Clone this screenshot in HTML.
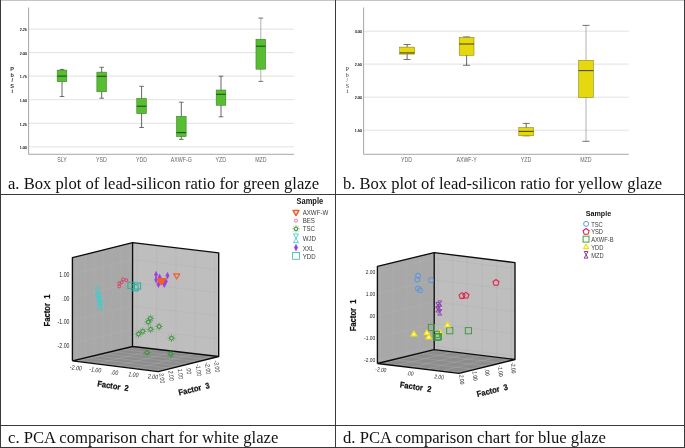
<!DOCTYPE html>
<html lang="en">
<head>
<meta charset="utf-8">
<title>Glaze analysis charts</title>
<style>
html,body{margin:0;padding:0;background:#fff;}
#fig{position:relative;width:685px;height:448px;overflow:hidden;background:#fff;font-family:"Liberation Serif","Times New Roman",serif;}
#fig svg{position:absolute;left:0;top:0;}
#fig svg text{font-family:"Liberation Sans",Arial,sans-serif;}
.ln{position:absolute;background:#3a3a3a;}
.cap{position:absolute;font-size:16.65px;line-height:20px;color:#111;white-space:nowrap;margin:0;}
</style>
</head>
<body>
<div id="fig">
<svg width="685" height="448" viewBox="0 0 685 448">
<g>
<line x1="28.6" y1="29.1" x2="294.1" y2="29.1" stroke="#dadada" stroke-width="0.8"/>
<text transform="translate(26.9 31.3) scale(0.86 1)" font-size="4.3" fill="#222" text-anchor="end" stroke="#222" stroke-width="0.18">2.25</text>
<line x1="28.6" y1="52.6" x2="294.1" y2="52.6" stroke="#dadada" stroke-width="0.8"/>
<text transform="translate(26.9 54.8) scale(0.86 1)" font-size="4.3" fill="#222" text-anchor="end" stroke="#222" stroke-width="0.18">2.00</text>
<line x1="28.6" y1="76.1" x2="294.1" y2="76.1" stroke="#dadada" stroke-width="0.8"/>
<text transform="translate(26.9 78.3) scale(0.86 1)" font-size="4.3" fill="#222" text-anchor="end" stroke="#222" stroke-width="0.18">1.75</text>
<line x1="28.6" y1="99.7" x2="294.1" y2="99.7" stroke="#dadada" stroke-width="0.8"/>
<text transform="translate(26.9 101.9) scale(0.86 1)" font-size="4.3" fill="#222" text-anchor="end" stroke="#222" stroke-width="0.18">1.50</text>
<line x1="28.6" y1="123.3" x2="294.1" y2="123.3" stroke="#dadada" stroke-width="0.8"/>
<text transform="translate(26.9 125.5) scale(0.86 1)" font-size="4.3" fill="#222" text-anchor="end" stroke="#222" stroke-width="0.18">1.25</text>
<line x1="28.6" y1="146.8" x2="294.1" y2="146.8" stroke="#dadada" stroke-width="0.8"/>
<text transform="translate(26.9 149.0) scale(0.86 1)" font-size="4.3" fill="#222" text-anchor="end" stroke="#222" stroke-width="0.18">1.00</text>
<path d="M28.6 7.5V154.3H294.1" fill="none" stroke="#9c9c9c" stroke-width="0.9"/>
<path d="M62 69.4V96.5" stroke="#333" stroke-width="0.75" fill="none"/>
<path d="M59.672 69.4H64.328M59.672 96.5H64.328" stroke="#3a3a3a" stroke-width="0.7" fill="none"/>
<rect x="57.15" y="70.1" width="9.7" height="11.600000000000009" fill="#58bd32" stroke="#2f7a1c" stroke-width="0.5"/>
<line x1="57.15" y1="76.1" x2="66.85" y2="76.1" stroke="#1c5410" stroke-width="1.1"/>
<path d="M101.7 67.3V98.2" stroke="#333" stroke-width="0.75" fill="none"/>
<path d="M99.372 67.3H104.028M99.372 98.2H104.028" stroke="#3a3a3a" stroke-width="0.7" fill="none"/>
<rect x="96.85000000000001" y="72.1" width="9.7" height="19.700000000000003" fill="#58bd32" stroke="#2f7a1c" stroke-width="0.5"/>
<line x1="96.85000000000001" y1="76.3" x2="106.55000000000001" y2="76.3" stroke="#1c5410" stroke-width="1.1"/>
<path d="M141.6 86.3V127.5" stroke="#333" stroke-width="0.75" fill="none"/>
<path d="M139.272 86.3H143.928M139.272 127.5H143.928" stroke="#3a3a3a" stroke-width="0.7" fill="none"/>
<rect x="136.75" y="98.4" width="9.7" height="15.299999999999997" fill="#58bd32" stroke="#2f7a1c" stroke-width="0.5"/>
<line x1="136.75" y1="106.2" x2="146.45" y2="106.2" stroke="#1c5410" stroke-width="1.1"/>
<path d="M181.3 102.2V139.4" stroke="#333" stroke-width="0.75" fill="none"/>
<path d="M178.972 102.2H183.62800000000001M178.972 139.4H183.62800000000001" stroke="#3a3a3a" stroke-width="0.7" fill="none"/>
<rect x="176.45000000000002" y="116.3" width="9.7" height="20.299999999999997" fill="#58bd32" stroke="#2f7a1c" stroke-width="0.5"/>
<line x1="176.45000000000002" y1="132.6" x2="186.15" y2="132.6" stroke="#1c5410" stroke-width="1.1"/>
<path d="M221 76.2V116.8" stroke="#333" stroke-width="0.75" fill="none"/>
<path d="M218.672 76.2H223.328M218.672 116.8H223.328" stroke="#3a3a3a" stroke-width="0.7" fill="none"/>
<rect x="216.15" y="90" width="9.7" height="15.299999999999997" fill="#58bd32" stroke="#2f7a1c" stroke-width="0.5"/>
<line x1="216.15" y1="94.3" x2="225.85" y2="94.3" stroke="#1c5410" stroke-width="1.1"/>
<path d="M260.8 18.1V81.4" stroke="#999" stroke-width="0.75" fill="none"/>
<path d="M258.47200000000004 18.1H263.128M258.47200000000004 81.4H263.128" stroke="#3a3a3a" stroke-width="0.7" fill="none"/>
<rect x="255.95000000000002" y="39.2" width="9.7" height="30.0" fill="#58bd32" stroke="#2f7a1c" stroke-width="0.5"/>
<line x1="255.95000000000002" y1="46.2" x2="265.65000000000003" y2="46.2" stroke="#1c5410" stroke-width="1.1"/>
<text transform="translate(62.0 162.0) scale(0.82 1)" font-size="6.4" fill="#666" text-anchor="middle">SLY</text>
<text transform="translate(101.5 162.0) scale(0.82 1)" font-size="6.4" fill="#666" text-anchor="middle">YSD</text>
<text transform="translate(141.5 162.0) scale(0.82 1)" font-size="6.4" fill="#666" text-anchor="middle">YDD</text>
<text transform="translate(181.3 162.0) scale(0.82 1)" font-size="6.4" fill="#666" text-anchor="middle">AXWF-G</text>
<text transform="translate(220.8 162.0) scale(0.82 1)" font-size="6.4" fill="#666" text-anchor="middle">YZD</text>
<text transform="translate(260.8 162.0) scale(0.82 1)" font-size="6.4" fill="#666" text-anchor="middle">MZD</text>
<text x="12.2" y="71.0" font-size="5.6" font-weight="bold" fill="#333" text-anchor="middle">P</text>
<text x="12.2" y="76.5" font-size="5.6" font-weight="bold" fill="#333" text-anchor="middle">b</text>
<text x="12.2" y="82.0" font-size="5.6" font-weight="bold" fill="#333" text-anchor="middle">/</text>
<text x="12.2" y="87.5" font-size="5.6" font-weight="bold" fill="#333" text-anchor="middle">S</text>
<text x="12.2" y="93.0" font-size="5.6" font-weight="bold" fill="#333" text-anchor="middle">i</text>
</g>
<g>
<line x1="363.6" y1="31.2" x2="628.8" y2="31.2" stroke="#dadada" stroke-width="0.8"/>
<text transform="translate(361.9 33.4) scale(0.86 1)" font-size="4.3" fill="#222" text-anchor="end" stroke="#222" stroke-width="0.18">3.00</text>
<line x1="363.6" y1="64.1" x2="628.8" y2="64.1" stroke="#dadada" stroke-width="0.8"/>
<text transform="translate(361.9 66.3) scale(0.86 1)" font-size="4.3" fill="#222" text-anchor="end" stroke="#222" stroke-width="0.18">2.50</text>
<line x1="363.6" y1="97.2" x2="628.8" y2="97.2" stroke="#dadada" stroke-width="0.8"/>
<text transform="translate(361.9 99.4) scale(0.86 1)" font-size="4.3" fill="#222" text-anchor="end" stroke="#222" stroke-width="0.18">2.00</text>
<line x1="363.6" y1="130.2" x2="628.8" y2="130.2" stroke="#dadada" stroke-width="0.8"/>
<text transform="translate(361.9 132.4) scale(0.86 1)" font-size="4.3" fill="#222" text-anchor="end" stroke="#222" stroke-width="0.18">1.50</text>
<path d="M363.6 7.5V154.3H628.8" fill="none" stroke="#9c9c9c" stroke-width="0.9"/>
<path d="M407.1 44.5V59.5" stroke="#333" stroke-width="0.75" fill="none"/>
<path d="M403.548 44.5H410.65200000000004M403.548 59.5H410.65200000000004" stroke="#3a3a3a" stroke-width="0.7" fill="none"/>
<rect x="399.70000000000005" y="47.1" width="14.8" height="7.0" fill="#e6d80f" stroke="#7d7608" stroke-width="0.5"/>
<line x1="399.70000000000005" y1="52.9" x2="414.50000000000006" y2="52.9" stroke="#514c04" stroke-width="1.1"/>
<path d="M466.6 36.9V65.3" stroke="#333" stroke-width="0.75" fill="none"/>
<path d="M463.048 36.9H470.15200000000004M463.048 65.3H470.15200000000004" stroke="#3a3a3a" stroke-width="0.7" fill="none"/>
<rect x="459.20000000000005" y="37.4" width="14.8" height="17.9" fill="#e6d80f" stroke="#7d7608" stroke-width="0.5"/>
<line x1="459.20000000000005" y1="44" x2="474.00000000000006" y2="44" stroke="#514c04" stroke-width="1.1"/>
<path d="M526.2 123.4V135.8" stroke="#333" stroke-width="0.75" fill="none"/>
<path d="M522.648 123.4H529.7520000000001M522.648 135.8H529.7520000000001" stroke="#3a3a3a" stroke-width="0.7" fill="none"/>
<rect x="518.8000000000001" y="127.5" width="14.8" height="8.300000000000011" fill="#e6d80f" stroke="#7d7608" stroke-width="0.5"/>
<line x1="518.8000000000001" y1="131.4" x2="533.6" y2="131.4" stroke="#514c04" stroke-width="1.1"/>
<path d="M586 25.4V141.3" stroke="#999" stroke-width="0.75" fill="none"/>
<path d="M582.448 25.4H589.552M582.448 141.3H589.552" stroke="#3a3a3a" stroke-width="0.7" fill="none"/>
<rect x="578.6" y="60.3" width="14.8" height="37.2" fill="#e6d80f" stroke="#7d7608" stroke-width="0.5"/>
<line x1="578.6" y1="70.6" x2="593.4" y2="70.6" stroke="#514c04" stroke-width="1.1"/>
<text transform="translate(406.6 162.0) scale(0.82 1)" font-size="6.4" fill="#666" text-anchor="middle">YDD</text>
<text transform="translate(466.6 162.0) scale(0.82 1)" font-size="6.4" fill="#666" text-anchor="middle">AXWF-Y</text>
<text transform="translate(526.0 162.0) scale(0.82 1)" font-size="6.4" fill="#666" text-anchor="middle">YZD</text>
<text transform="translate(585.9 162.0) scale(0.82 1)" font-size="6.4" fill="#666" text-anchor="middle">MZD</text>
<text x="347.3" y="71.0" font-size="5.9" fill="#333" style="font-family:'Liberation Serif',serif" text-anchor="middle">P</text>
<text x="347.3" y="76.5" font-size="5.9" fill="#333" style="font-family:'Liberation Serif',serif" text-anchor="middle">b</text>
<text x="347.3" y="82.0" font-size="5.9" fill="#333" style="font-family:'Liberation Serif',serif" text-anchor="middle">/</text>
<text x="347.3" y="87.5" font-size="5.9" fill="#333" style="font-family:'Liberation Serif',serif" text-anchor="middle">S</text>
<text x="347.3" y="93.0" font-size="5.9" fill="#333" style="font-family:'Liberation Serif',serif" text-anchor="middle">i</text>
</g>
<g>
<polygon points="72.4 257.7 132.6 242.6 132.5 346.5 72.4 360.8" fill="#a8a8a8"/>
<polygon points="132.6 242.6 218.7 252.9 218.7 356.5 132.5 346.5" fill="#bebebe"/>
<polygon points="72.4 360.8 132.5 346.5 218.7 356.5 158.2 371.6" fill="#8c8c8c"/>
<path d="M72.4 274.5L132.6 259.5M72.4 297.5L132.6 282.7M72.4 320.5L132.5 305.9M72.4 343.5L132.5 329.0M76.4 256.7L76.4 359.9M85.3 254.5L85.3 357.7M94.2 252.2L94.2 355.6M103.2 250.0L103.1 353.5M112.0 247.8L111.9 351.4M121.0 245.5L120.9 349.3M129.7 243.3L129.6 347.2" fill="none" stroke="#c0c0c0" stroke-opacity="0.4" stroke-width="0.5"/>
<path d="M132.6 259.5L218.7 269.8M132.6 282.7L218.7 292.9M132.5 305.9L218.7 316.0M132.5 329.0L218.7 339.1M137.3 243.2L137.2 347.1M156.6 245.5L156.5 349.3M175.9 247.8L175.9 351.5M195.2 250.1L195.2 353.8M214.5 252.4L214.5 356.0" fill="none" stroke="#a9a9a9" stroke-opacity="0.5" stroke-width="0.5"/>
<path d="M76.4 359.9L162.2 370.6M85.3 357.7L171.2 368.4M94.2 355.6L180.1 366.1M103.1 353.5L189.1 363.9M111.9 351.4L198.0 361.7M120.9 349.3L207.0 359.4M129.6 347.2L215.8 357.2M137.2 347.1L77.1 361.4M156.5 349.3L96.3 363.8M175.9 351.5L115.6 366.2M195.2 353.8L134.8 368.7M214.5 356.0L154.0 371.1" fill="none" stroke="#c0c0c0" stroke-opacity="0.5" stroke-width="0.5"/>
<path d="M72.4 360.8L72.4 257.7L132.6 242.6L218.7 252.9L218.7 356.5L158.2 371.6L72.4 360.8M132.6 242.6L132.5 346.5L218.7 356.5M132.5 346.5L72.4 360.8" fill="none" stroke="#0c0c0c" stroke-width="1.35" stroke-linejoin="round"/>
<text transform="translate(69.5 275.0) scale(0.82 1)" font-size="6.4" fill="#1c1c1c" text-anchor="end" dominant-baseline="central">1.00</text>
<text transform="translate(69.5 298.6) scale(0.82 1)" font-size="6.4" fill="#1c1c1c" text-anchor="end" dominant-baseline="central">.00</text>
<text transform="translate(69.5 321.8) scale(0.82 1)" font-size="6.4" fill="#1c1c1c" text-anchor="end" dominant-baseline="central">-1.00</text>
<text transform="translate(69.5 345.5) scale(0.82 1)" font-size="6.4" fill="#1c1c1c" text-anchor="end" dominant-baseline="central">-2.00</text>
<text transform="translate(47.0 310.5) rotate(-90) scale(0.92 1)" font-size="8.3" font-weight="bold" fill="#111" text-anchor="middle" dominant-baseline="central" stroke="#111" stroke-width="0.22">Factor&#160; 1</text>
<text transform="translate(76.0 367.8) rotate(6) skewX(-6) scale(0.82 1)" font-size="6.4" fill="#1c1c1c" text-anchor="middle" dominant-baseline="central">-2.00</text>
<text transform="translate(95.3 369.8) rotate(6) skewX(-6) scale(0.82 1)" font-size="6.4" fill="#1c1c1c" text-anchor="middle" dominant-baseline="central">-1.00</text>
<text transform="translate(114.7 372.6) rotate(6) skewX(-6) scale(0.82 1)" font-size="6.4" fill="#1c1c1c" text-anchor="middle" dominant-baseline="central">.00</text>
<text transform="translate(133.5 374.6) rotate(6) skewX(-6) scale(0.82 1)" font-size="6.4" fill="#1c1c1c" text-anchor="middle" dominant-baseline="central">1.00</text>
<text transform="translate(153.0 376.6) rotate(6) skewX(-6) scale(0.82 1)" font-size="6.4" fill="#1c1c1c" text-anchor="middle" dominant-baseline="central">2.00</text>
<text transform="translate(113.0 386.2) rotate(9) scale(0.92 1)" font-size="8.3" font-weight="bold" fill="#111" text-anchor="middle" dominant-baseline="central" stroke="#111" stroke-width="0.22">Factor&#160; 2</text>
<text transform="translate(161.9 378.2) rotate(84) skewX(-4) scale(0.82 1)" font-size="6.4" fill="#1c1c1c" text-anchor="middle" dominant-baseline="central">3.00</text>
<text transform="translate(171.3 375.7) rotate(84) skewX(-4) scale(0.82 1)" font-size="6.4" fill="#1c1c1c" text-anchor="middle" dominant-baseline="central">2.00</text>
<text transform="translate(180.5 373.9) rotate(84) skewX(-4) scale(0.82 1)" font-size="6.4" fill="#1c1c1c" text-anchor="middle" dominant-baseline="central">1.00</text>
<text transform="translate(188.9 370.7) rotate(84) skewX(-4) scale(0.82 1)" font-size="6.4" fill="#1c1c1c" text-anchor="middle" dominant-baseline="central">.00</text>
<text transform="translate(198.6 370.1) rotate(84) skewX(-4) scale(0.82 1)" font-size="6.4" fill="#1c1c1c" text-anchor="middle" dominant-baseline="central">-1.00</text>
<text transform="translate(207.8 368.2) rotate(84) skewX(-4) scale(0.82 1)" font-size="6.4" fill="#1c1c1c" text-anchor="middle" dominant-baseline="central">-2.00</text>
<text transform="translate(216.9 366.3) rotate(84) skewX(-4) scale(0.82 1)" font-size="6.4" fill="#1c1c1c" text-anchor="middle" dominant-baseline="central">-3.00</text>
<text transform="translate(194.1 389.2) rotate(-14) scale(0.92 1)" font-size="8.3" font-weight="bold" fill="#111" text-anchor="middle" dominant-baseline="central" stroke="#111" stroke-width="0.22">Factor&#160; 3</text>
<polygon points="95.0 287.6 100.0 287.6 95.0 296.2 100.0 296.2" fill="none" stroke="#38d0d0" stroke-width="0.85" stroke-linejoin="round"/>
<polygon points="96.1 292.3 101.1 292.3 96.1 300.9 101.1 300.9" fill="none" stroke="#38d0d0" stroke-width="0.85" stroke-linejoin="round"/>
<polygon points="97.4 296.7 102.4 296.7 97.4 305.3 102.4 305.3" fill="none" stroke="#38d0d0" stroke-width="0.85" stroke-linejoin="round"/>
<polygon points="98.1 301.1 103.1 301.1 98.1 309.7 103.1 309.7" fill="none" stroke="#38d0d0" stroke-width="0.85" stroke-linejoin="round"/>
<circle cx="119.2" cy="283.3" r="1.5" fill="none" stroke="#dc3562" stroke-width="0.85"/>
<circle cx="119.2" cy="286.4" r="1.5" fill="none" stroke="#dc3562" stroke-width="0.85"/>
<circle cx="121.5" cy="282.4" r="1.5" fill="none" stroke="#dc3562" stroke-width="0.85"/>
<circle cx="123.0" cy="279.4" r="1.5" fill="none" stroke="#dc3562" stroke-width="0.85"/>
<circle cx="126.2" cy="280.2" r="1.5" fill="none" stroke="#dc3562" stroke-width="0.85"/>
<rect x="127.9" y="282.2" width="6.2" height="6.2" fill="none" stroke="#25b09c" stroke-width="1.0"/>
<rect x="131.9" y="284.7" width="6.2" height="6.2" fill="none" stroke="#25b09c" stroke-width="1.0"/>
<rect x="134.4" y="282.9" width="6.2" height="6.2" fill="none" stroke="#25b09c" stroke-width="1.0"/>
<polygon points="156.1 271.2 157.7 274.6 156.1 278.0 154.5 274.6" fill="#9a3fe0" stroke="#9a3fe0" stroke-width="0.4" stroke-linejoin="round"/>
<polygon points="156.1 276.4 157.7 279.8 156.1 283.2 154.5 279.8" fill="#9a3fe0" stroke="#9a3fe0" stroke-width="0.4" stroke-linejoin="round"/>
<polygon points="167.5 272.2 169.1 275.6 167.5 279.0 165.9 275.6" fill="#9a3fe0" stroke="#9a3fe0" stroke-width="0.4" stroke-linejoin="round"/>
<polygon points="159.6 273.9 161.2 277.3 159.6 280.7 158.0 277.3" fill="#9a3fe0" stroke="#9a3fe0" stroke-width="0.4" stroke-linejoin="round"/>
<polygon points="158.5 280.9 160.1 284.3 158.5 287.7 156.9 284.3" fill="#9a3fe0" stroke="#9a3fe0" stroke-width="0.4" stroke-linejoin="round"/>
<polygon points="164.3 280.9 165.9 284.3 164.3 287.7 162.7 284.3" fill="#9a3fe0" stroke="#9a3fe0" stroke-width="0.4" stroke-linejoin="round"/>
<polygon points="165.8 277.9 167.4 281.3 165.8 284.7 164.2 281.3" fill="#9a3fe0" stroke="#9a3fe0" stroke-width="0.4" stroke-linejoin="round"/>
<polygon points="157.2 278.6 163.2 278.6 160.2 283.7" fill="#f2602a" stroke="#f2602a" stroke-width="1.25" stroke-linejoin="round"/>
<polygon points="159.5 278.6 165.5 278.6 162.5 283.7" fill="#f2602a" stroke="#f2602a" stroke-width="1.25" stroke-linejoin="round"/>
<polygon points="158.4 279.6 164.4 279.6 161.4 284.7" fill="#f2602a" stroke="#f2602a" stroke-width="1.25" stroke-linejoin="round"/>
<polygon points="173.7 273.9 179.7 273.9 176.7 279.0" fill="none" stroke="#f2602a" stroke-width="1.25" stroke-linejoin="round"/>
<path d="M152.15 318.50L153.90 318.50M151.64 319.74L152.87 320.97M150.40 320.25L150.40 322.00M149.16 319.74L147.93 320.97M148.65 318.50L146.90 318.50M149.16 317.26L147.93 316.03M150.40 316.75L150.40 315.00M151.64 317.26L152.87 316.03" fill="none" stroke="#2f922f" stroke-width="0.6" stroke-linecap="round"/>
<circle cx="150.4" cy="318.5" r="1.82" fill="none" stroke="#2f922f" stroke-width="0.90"/>
<path d="M150.05 322.00L151.80 322.00M149.54 323.24L150.77 324.47M148.30 323.75L148.30 325.50M147.06 323.24L145.83 324.47M146.55 322.00L144.80 322.00M147.06 320.76L145.83 319.53M148.30 320.25L148.30 318.50M149.54 320.76L150.77 319.53" fill="none" stroke="#2f922f" stroke-width="0.6" stroke-linecap="round"/>
<circle cx="148.3" cy="322.0" r="1.82" fill="none" stroke="#2f922f" stroke-width="0.90"/>
<path d="M160.85 326.50L162.60 326.50M160.34 327.74L161.57 328.97M159.10 328.25L159.10 330.00M157.86 327.74L156.63 328.97M157.35 326.50L155.60 326.50M157.86 325.26L156.63 324.03M159.10 324.75L159.10 323.00M160.34 325.26L161.57 324.03" fill="none" stroke="#2f922f" stroke-width="0.6" stroke-linecap="round"/>
<circle cx="159.1" cy="326.5" r="1.82" fill="none" stroke="#2f922f" stroke-width="0.90"/>
<path d="M152.35 329.30L154.10 329.30M151.84 330.54L153.07 331.77M150.60 331.05L150.60 332.80M149.36 330.54L148.13 331.77M148.85 329.30L147.10 329.30M149.36 328.06L148.13 326.83M150.60 327.55L150.60 325.80M151.84 328.06L153.07 326.83" fill="none" stroke="#2f922f" stroke-width="0.6" stroke-linecap="round"/>
<circle cx="150.6" cy="329.3" r="1.82" fill="none" stroke="#2f922f" stroke-width="0.90"/>
<path d="M144.45 331.30L146.20 331.30M143.94 332.54L145.17 333.77M142.70 333.05L142.70 334.80M141.46 332.54L140.23 333.77M140.95 331.30L139.20 331.30M141.46 330.06L140.23 328.83M142.70 329.55L142.70 327.80M143.94 330.06L145.17 328.83" fill="none" stroke="#2f922f" stroke-width="0.6" stroke-linecap="round"/>
<circle cx="142.7" cy="331.3" r="1.82" fill="none" stroke="#2f922f" stroke-width="0.90"/>
<path d="M140.25 334.10L142.00 334.10M139.74 335.34L140.97 336.57M138.50 335.85L138.50 337.60M137.26 335.34L136.03 336.57M136.75 334.10L135.00 334.10M137.26 332.86L136.03 331.63M138.50 332.35L138.50 330.60M139.74 332.86L140.97 331.63" fill="none" stroke="#2f922f" stroke-width="0.6" stroke-linecap="round"/>
<circle cx="138.5" cy="334.1" r="1.82" fill="none" stroke="#2f922f" stroke-width="0.90"/>
<path d="M173.25 338.20L175.00 338.20M172.74 339.44L173.97 340.67M171.50 339.95L171.50 341.70M170.26 339.44L169.03 340.67M169.75 338.20L168.00 338.20M170.26 336.96L169.03 335.73M171.50 336.45L171.50 334.70M172.74 336.96L173.97 335.73" fill="none" stroke="#2f922f" stroke-width="0.6" stroke-linecap="round"/>
<circle cx="171.5" cy="338.2" r="1.82" fill="none" stroke="#2f922f" stroke-width="0.90"/>
<path d="M148.75 352.50L150.50 352.50M148.24 353.74L149.47 354.97M147.00 354.25L147.00 356.00M145.76 353.74L144.53 354.97M145.25 352.50L143.50 352.50M145.76 351.26L144.53 350.03M147.00 350.75L147.00 349.00M148.24 351.26L149.47 350.03" fill="none" stroke="#2f922f" stroke-width="0.6" stroke-linecap="round"/>
<circle cx="147.0" cy="352.5" r="1.82" fill="none" stroke="#2f922f" stroke-width="0.90"/>
<path d="M172.45 353.80L174.20 353.80M171.94 355.04L173.17 356.27M170.70 355.55L170.70 357.30M169.46 355.04L168.23 356.27M168.95 353.80L167.20 353.80M169.46 352.56L168.23 351.33M170.70 352.05L170.70 350.30M171.94 352.56L173.17 351.33" fill="none" stroke="#2f922f" stroke-width="0.6" stroke-linecap="round"/>
<circle cx="170.7" cy="353.8" r="1.82" fill="none" stroke="#2f922f" stroke-width="0.90"/>
<text transform="translate(296.6 203.7) scale(0.89 1)" font-size="8.4" font-weight="bold" fill="#111" text-anchor="start">Sample</text>
<text transform="translate(302.7 215.4) scale(0.84 1)" font-size="7.3" fill="#3a3a3a" text-anchor="start">AXWF-W</text>
<text transform="translate(302.7 223.2) scale(0.84 1)" font-size="7.3" fill="#3a3a3a" text-anchor="start">BES</text>
<text transform="translate(302.7 231.4) scale(0.84 1)" font-size="7.3" fill="#3a3a3a" text-anchor="start">TSC</text>
<text transform="translate(302.7 241.1) scale(0.84 1)" font-size="7.3" fill="#3a3a3a" text-anchor="start">WJD</text>
<text transform="translate(302.7 250.8) scale(0.84 1)" font-size="7.3" fill="#3a3a3a" text-anchor="start">XXL</text>
<text transform="translate(302.7 259.0) scale(0.84 1)" font-size="7.3" fill="#3a3a3a" text-anchor="start">YDD</text>
<polygon points="293.0 210.4 299.0 210.4 296.0 215.5" fill="none" stroke="#f2602a" stroke-width="1.5" stroke-linejoin="round"/>
<circle cx="296.0" cy="220.6" r="1.6" fill="none" stroke="#e8578a" stroke-width="0.8"/>
<path d="M297.65 228.80L299.30 228.80M297.17 229.97L298.33 231.13M296.00 230.45L296.00 232.10M294.83 229.97L293.67 231.13M294.35 228.80L292.70 228.80M294.83 227.63L293.67 226.47M296.00 227.15L296.00 225.50M297.17 227.63L298.33 226.47" fill="none" stroke="#2f922f" stroke-width="0.6" stroke-linecap="round"/>
<circle cx="296.0" cy="228.8" r="1.72" fill="none" stroke="#2f922f" stroke-width="0.90"/>
<polygon points="293.5 234.0 298.5 234.0 293.5 242.6 298.5 242.6" fill="none" stroke="#38d0d0" stroke-width="0.85" stroke-linejoin="round"/>
<polygon points="296.0 244.2 297.8 247.6 296.0 251.0 294.2 247.6" fill="#9a3fe0" stroke="#9a3fe0" stroke-width="0.4" stroke-linejoin="round"/>
<rect x="292.6" y="252.5" width="6.8" height="6.8" fill="none" stroke="#35b8a8" stroke-width="0.8"/>
</g>
<g>
<polygon points="377.4 266.4 434.2 252.6 434.2 349.7 377.4 363.5" fill="#a8a8a8"/>
<polygon points="434.2 252.6 515.0 262.6 515.0 359.5 434.2 349.7" fill="#bebebe"/>
<polygon points="377.4 363.5 434.2 349.7 515.0 359.5 459.0 373.3" fill="#8c8c8c"/>
<path d="M377.4 272.2L434.2 258.4M377.4 293.8L434.2 280.0M377.4 315.6L434.2 301.8M377.4 337.5L434.2 323.7M377.4 360.0L434.2 346.2M380.5 265.7L380.5 362.8M393.5 262.5L393.5 359.6M406.6 259.3L406.6 356.4M419.6 256.1L419.6 353.2M432.7 253.0L432.7 350.1" fill="none" stroke="#c0c0c0" stroke-opacity="0.4" stroke-width="0.5"/>
<path d="M434.2 258.4L515.0 268.4M434.2 280.0L515.0 289.9M434.2 301.8L515.0 311.7M434.2 323.7L515.0 333.5M434.2 346.2L515.0 356.0M438.0 253.1L438.0 350.2M452.7 254.9L452.7 351.9M467.4 256.7L467.4 353.7M482.0 258.5L482.0 355.5M496.7 260.3L496.7 357.3M511.4 262.2L511.4 359.1" fill="none" stroke="#a9a9a9" stroke-opacity="0.5" stroke-width="0.5"/>
<path d="M380.5 362.8L462.0 372.6M393.5 359.6L474.9 369.4M406.6 356.4L487.8 366.2M419.6 353.2L500.6 363.0M432.7 350.1L513.5 359.9M438.0 350.2L381.2 364.0M452.7 351.9L396.1 365.7M467.4 353.7L410.9 367.5M482.0 355.5L425.7 369.3M496.7 357.3L440.6 371.1M511.4 359.1L455.3 372.9" fill="none" stroke="#c0c0c0" stroke-opacity="0.5" stroke-width="0.5"/>
<path d="M377.4 363.5L377.4 266.4L434.2 252.6L515.0 262.6L515.0 359.5L459.0 373.3L377.4 363.5M434.2 252.6L434.2 349.7L515.0 359.5M434.2 349.7L377.4 363.5" fill="none" stroke="#0c0c0c" stroke-width="1.35" stroke-linejoin="round"/>
<text transform="translate(375.3 272.1) scale(0.82 1)" font-size="6.0" fill="#1c1c1c" text-anchor="end" dominant-baseline="central">2.00</text>
<text transform="translate(375.3 293.7) scale(0.82 1)" font-size="6.0" fill="#1c1c1c" text-anchor="end" dominant-baseline="central">1.00</text>
<text transform="translate(375.3 315.5) scale(0.82 1)" font-size="6.0" fill="#1c1c1c" text-anchor="end" dominant-baseline="central">.00</text>
<text transform="translate(375.3 337.4) scale(0.82 1)" font-size="6.0" fill="#1c1c1c" text-anchor="end" dominant-baseline="central">-1.00</text>
<text transform="translate(375.3 359.9) scale(0.82 1)" font-size="6.0" fill="#1c1c1c" text-anchor="end" dominant-baseline="central">-2.00</text>
<text transform="translate(353.8 315.4) rotate(-90) scale(0.92 1)" font-size="8.3" font-weight="bold" fill="#111" text-anchor="middle" dominant-baseline="central" stroke="#111" stroke-width="0.22">Factor&#160; 1</text>
<text transform="translate(381.0 369.5) rotate(6) skewX(-6) scale(0.82 1)" font-size="5.9" fill="#1c1c1c" text-anchor="middle" dominant-baseline="central">-2.00</text>
<text transform="translate(410.3 373.3) rotate(6) skewX(-6) scale(0.82 1)" font-size="5.9" fill="#1c1c1c" text-anchor="middle" dominant-baseline="central">.00</text>
<text transform="translate(439.2 376.8) rotate(6) skewX(-6) scale(0.82 1)" font-size="5.9" fill="#1c1c1c" text-anchor="middle" dominant-baseline="central">2.00</text>
<text transform="translate(415.6 387.1) rotate(9) scale(0.92 1)" font-size="8.3" font-weight="bold" fill="#111" text-anchor="middle" dominant-baseline="central" stroke="#111" stroke-width="0.22">Factor&#160; 2</text>
<text transform="translate(462.0 379.6) rotate(84) skewX(-4) scale(0.82 1)" font-size="5.9" fill="#1c1c1c" text-anchor="middle" dominant-baseline="central">2.00</text>
<text transform="translate(475.3 376.0) rotate(84) skewX(-4) scale(0.82 1)" font-size="5.9" fill="#1c1c1c" text-anchor="middle" dominant-baseline="central">1.00</text>
<text transform="translate(487.3 372.3) rotate(84) skewX(-4) scale(0.82 1)" font-size="5.9" fill="#1c1c1c" text-anchor="middle" dominant-baseline="central">.00</text>
<text transform="translate(500.7 371.0) rotate(84) skewX(-4) scale(0.82 1)" font-size="5.9" fill="#1c1c1c" text-anchor="middle" dominant-baseline="central">-1.00</text>
<text transform="translate(513.5 367.8) rotate(84) skewX(-4) scale(0.82 1)" font-size="5.9" fill="#1c1c1c" text-anchor="middle" dominant-baseline="central">-2.00</text>
<text transform="translate(492.4 390.7) rotate(-14) scale(0.92 1)" font-size="8.3" font-weight="bold" fill="#111" text-anchor="middle" dominant-baseline="central" stroke="#111" stroke-width="0.22">Factor&#160; 3</text>
<circle cx="418.1" cy="275.7" r="2.5" fill="none" stroke="#4f94e8" stroke-width="0.95"/>
<circle cx="417.4" cy="279.7" r="2.5" fill="none" stroke="#4f94e8" stroke-width="0.95"/>
<circle cx="431.0" cy="280.2" r="2.5" fill="none" stroke="#4f94e8" stroke-width="0.95"/>
<circle cx="417.9" cy="288.5" r="2.5" fill="none" stroke="#4f94e8" stroke-width="0.95"/>
<circle cx="420.1" cy="290.3" r="2.5" fill="none" stroke="#4f94e8" stroke-width="0.95"/>
<polygon points="462.10 292.60 465.14 294.81 463.98 298.39 460.22 298.39 459.06 294.81" fill="none" stroke="#e01f48" stroke-width="1.05" stroke-linejoin="round"/>
<polygon points="465.90 292.30 468.94 294.51 467.78 298.09 464.02 298.09 462.86 294.51" fill="none" stroke="#e01f48" stroke-width="1.05" stroke-linejoin="round"/>
<polygon points="496.00 279.50 499.04 281.71 497.88 285.29 494.12 285.29 492.96 281.71" fill="none" stroke="#e01f48" stroke-width="1.05" stroke-linejoin="round"/>
<polygon points="435.8 302.6 439.8 302.6 435.8 308.0 439.8 308.0" fill="none" stroke="#8e3fb0" stroke-width="0.9" stroke-linejoin="round"/>
<polygon points="437.8 300.9 441.8 300.9 437.8 306.3 441.8 306.3" fill="none" stroke="#8e3fb0" stroke-width="0.9" stroke-linejoin="round"/>
<polygon points="437.2 304.9 441.2 304.9 437.2 310.3 441.2 310.3" fill="none" stroke="#8e3fb0" stroke-width="0.9" stroke-linejoin="round"/>
<polygon points="435.8 306.6 439.8 306.6 435.8 312.0 439.8 312.0" fill="none" stroke="#8e3fb0" stroke-width="0.9" stroke-linejoin="round"/>
<polygon points="437.8 309.7 441.8 309.7 437.8 315.1 441.8 315.1" fill="none" stroke="#8e3fb0" stroke-width="0.9" stroke-linejoin="round"/>
<polygon points="437.2 334.5 442.8 334.5 440.0 329.8" fill="#fffbe0" stroke="#f0e010" stroke-width="1.3" stroke-linejoin="round"/>
<rect x="428.3" y="324.4" width="6.2" height="6.2" fill="none" stroke="#3c9a3c" stroke-width="0.95"/>
<rect x="446.7" y="327.6" width="6.2" height="6.2" fill="none" stroke="#3c9a3c" stroke-width="0.95"/>
<rect x="465.3" y="327.6" width="6.2" height="6.2" fill="none" stroke="#3c9a3c" stroke-width="0.95"/>
<rect x="433.1" y="331.3" width="6.2" height="6.2" fill="none" stroke="#3c9a3c" stroke-width="0.95"/>
<rect x="435.3" y="333.5" width="6.2" height="6.2" fill="none" stroke="#3c9a3c" stroke-width="0.95"/>
<rect x="434.2" y="334.2" width="6.2" height="6.2" fill="none" stroke="#3c9a3c" stroke-width="0.95"/>
<polygon points="411.1 335.9 416.7 335.9 413.9 331.2" fill="#fffbe0" stroke="#f0e010" stroke-width="1.3" stroke-linejoin="round"/>
<polygon points="424.1 334.7 429.7 334.7 426.9 330.0" fill="#fffbe0" stroke="#f0e010" stroke-width="1.3" stroke-linejoin="round"/>
<polygon points="425.9 338.9 431.5 338.9 428.7 334.2" fill="#fffbe0" stroke="#f0e010" stroke-width="1.3" stroke-linejoin="round"/>
<polygon points="444.7 326.9 450.3 326.9 447.5 322.2" fill="#fffbe0" stroke="#f0e010" stroke-width="1.3" stroke-linejoin="round"/>
<text transform="translate(585.7 215.9) scale(0.92 1)" font-size="7.8" font-weight="bold" fill="#111" text-anchor="start">Sample</text>
<text transform="translate(591.2 226.9) scale(0.8 1)" font-size="7.2" fill="#3a3a3a" text-anchor="start">TSC</text>
<text transform="translate(591.2 234.3) scale(0.8 1)" font-size="7.2" fill="#3a3a3a" text-anchor="start">YSD</text>
<text transform="translate(591.2 242.2) scale(0.8 1)" font-size="7.2" fill="#3a3a3a" text-anchor="start">AXWF-B</text>
<text transform="translate(591.2 249.8) scale(0.8 1)" font-size="7.2" fill="#3a3a3a" text-anchor="start">YDD</text>
<text transform="translate(591.2 257.8) scale(0.8 1)" font-size="7.2" fill="#3a3a3a" text-anchor="start">MZD</text>
<circle cx="586.1" cy="223.9" r="2.5" fill="none" stroke="#4f94e8" stroke-width="0.95"/>
<polygon points="586.10 228.50 589.14 230.71 587.98 234.29 584.22 234.29 583.06 230.71" fill="none" stroke="#e01f48" stroke-width="1.05" stroke-linejoin="round"/>
<rect x="583.1" y="236.2" width="5.9" height="5.9" fill="none" stroke="#3c9a3c" stroke-width="0.95"/>
<polygon points="583.6 248.6 588.6 248.6 586.1 244.3" fill="#fffbe0" stroke="#f0e010" stroke-width="1.2" stroke-linejoin="round"/>
<polygon points="584.2 251.5 588.0 251.5 584.2 258.1 588.0 258.1" fill="none" stroke="#8a3aa8" stroke-width="1.0" stroke-linejoin="round"/>
</g>
</svg>
<div class="ln" style="left:0;top:0;width:685px;height:1px;background:#c4c4c4"></div>
<div class="ln" style="left:0;top:0;width:1px;height:448px"></div>
<div class="ln" style="left:684px;top:0;width:1px;height:448px"></div>
<div class="ln" style="left:335px;top:0;width:1px;height:448px"></div>
<div class="ln" style="left:0;top:194px;width:685px;height:1px"></div>
<div class="ln" style="left:0;top:425px;width:685px;height:1px"></div>
<div class="ln" style="left:0;top:447px;width:685px;height:1px"></div>
<p class="cap" style="left:8px;top:174px;font-size:16.6px">a. Box plot of lead-silicon ratio for green glaze</p>
<p class="cap" style="left:343px;top:174px;font-size:16.55px">b. Box plot of lead-silicon ratio for yellow glaze</p>
<p class="cap" style="left:8px;top:427.5px">c. PCA comparison chart for white glaze</p>
<p class="cap" style="left:343px;top:427.5px">d. PCA comparison chart for blue glaze</p>
</div>
</body>
</html>
